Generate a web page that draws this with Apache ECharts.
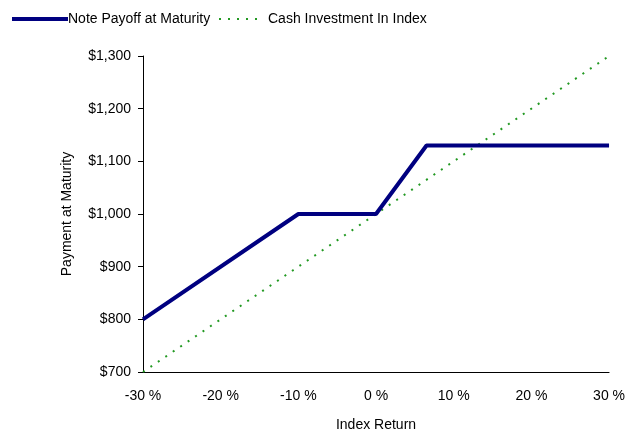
<!DOCTYPE html>
<html><head><meta charset="utf-8">
<script src="https://cdn.jsdelivr.net/npm/echarts@6/dist/echarts.min.js"></script>
<style>html,body{margin:0;padding:0;background:#fff}#c{width:628px;height:437px}</style>
</head><body><div id="c"></div>
<script>
const noteName = 'Note Payoff at Maturity';
const cashName = 'Cash Investment In Index';
const noteX = [-30, -10, 0, 6.5, 30];
const noteY = [800, 1000, 1000, 1130, 1130];
const cashX = [-30, 30];
const cashY = [700, 1300];
const xTicks = [-30, -20, -10, 0, 10, 20, 30];
const yTicks = [700, 800, 900, 1000, 1100, 1200, 1300];

const font = 'Liberation Sans, Arial, sans-serif';
const chart = echarts.init(document.getElementById('c'));
chart.setOption({
  animation: false,
  grid: {left: 143, right: 17, top: 56, bottom: 62, containLabel: false},
  legend: [
    {data: [noteName], left: 5, top: 7, itemWidth: 56, itemHeight: 10, itemGap: 0,
     itemStyle: {opacity: 0}, lineStyle: {width: 4},
     textStyle: {fontFamily: font, fontSize: 14, color: '#000', padding: [0,0,0,-5]}},
    {data: [cashName], left: 213, top: 7, itemWidth: 44, itemHeight: 10,
     itemStyle: {opacity: 0},
     textStyle: {fontFamily: font, fontSize: 14, color: '#000'}}
  ],
  xAxis: {
    type: 'value', min: -30, max: 30, interval: 10,
    name: 'Index Return', nameLocation: 'middle', nameGap: 46,
    nameTextStyle: {fontFamily: font, fontSize: 14, color: '#000'},
    axisLine: {show: true, onZero: false, lineStyle: {color: '#000', width: 1}},
    axisTick: {show: false},
    splitLine: {show: false},
    axisLabel: {fontFamily: font, fontSize: 14, color: '#000', margin: 17,
      formatter: v => xTicks.includes(v) ? v + ' %' : ''}
  },
  yAxis: {
    type: 'value', min: 700, max: 1300, interval: 100,
    name: 'Payment at Maturity', nameLocation: 'middle', nameGap: 69, nameRotate: 90,
    nameTextStyle: {fontFamily: font, fontSize: 14, color: '#000'},
    axisLine: {show: true, onZero: false, lineStyle: {color: '#000', width: 1}},
    axisTick: {show: true, length: 5, lineStyle: {color: '#000'}},
    splitLine: {show: false},
    axisLabel: {fontFamily: font, fontSize: 14, color: '#000', margin: 12,
      formatter: v => yTicks.includes(v) ? '$' + v.toLocaleString('en-US') : ''}
  },
  series: [
    {name: noteName, type: 'line', symbol: 'none', z: 3,
     data: noteX.map((x, i) => [x, noteY[i]]),
     lineStyle: {color: '#000080', width: 4}, itemStyle: {color: '#000080'}},
    {name: cashName, type: 'line', symbol: 'none', z: 2,
     data: cashX.map((x, i) => [x, cashY[i]]),
     lineStyle: {color: '#229922', width: 2, type: [2, 7]}, itemStyle: {color: '#229922'}}
  ]
});
</script></body></html>
